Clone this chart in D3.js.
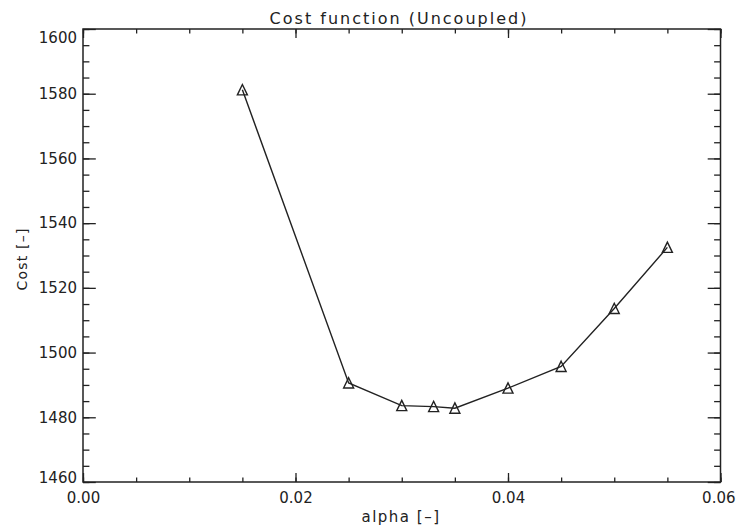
<!DOCTYPE html>
<html>
<head>
<meta charset="utf-8">
<script src="https://cdn.jsdelivr.net/npm/d3@7"></script>
<style>
  body { margin: 0; background: #fff; }
  svg { display: block; }
  text { font-family: "DejaVu Sans", sans-serif; fill: #222; }
</style>
</head>
<body>
<script>
let w = 736;
let h = 529;
let margin = {left: 83, right: 15.5, top: 29, bottom: 47};

// values
let alpha = [0.015, 0.025, 0.030, 0.033, 0.035, 0.040, 0.045, 0.050, 0.055];
let cost = [1581.2, 1490.6, 1483.6, 1483.3, 1482.8, 1489.0, 1495.7, 1513.6, 1532.5];
let xTicks = [0.00, 0.02, 0.04, 0.06];
let yTicks = [1460, 1480, 1500, 1520, 1540, 1560, 1580, 1600];

let data = alpha.map((a, i) => ({alpha: a, cost: cost[i]}));

let svg = d3.select("body").append("svg").attr("width", w).attr("height", h);

let x = d3.scaleLinear().domain([0, 0.06]).range([margin.left, w - margin.right]);
let y = d3.scaleLinear().domain([1460, 1600]).range([h - margin.bottom, margin.top]);

let xMinor = d3.range(0, 0.0601, 0.005);
let yMinor = d3.range(1460, 1600.1, 5);

let tlx = 9;     // x tick length (IDL 0.02 of plot height)
let tly = 12.8;  // y tick length

function styleAxis(g) {
  g.select(".domain").remove();
  g.selectAll("line").attr("stroke", "#222").attr("stroke-width", 1.3);
}

// minor ticks, all four sides
svg.append("g").attr("transform", "translate(0," + y(1460) + ")")
  .call(d3.axisBottom(x).tickValues(xMinor).tickSize(-tlx / 2).tickFormat(""))
  .call(styleAxis);
svg.append("g").attr("transform", "translate(0," + y(1600) + ")")
  .call(d3.axisTop(x).tickValues(xMinor).tickSize(-tlx / 2).tickFormat(""))
  .call(styleAxis);
svg.append("g").attr("transform", "translate(" + x(0) + ",0)")
  .call(d3.axisLeft(y).tickValues(yMinor).tickSize(-tly / 2).tickFormat(""))
  .call(styleAxis);
svg.append("g").attr("transform", "translate(" + x(0.06) + ",0)")
  .call(d3.axisRight(y).tickValues(yMinor).tickSize(-tly / 2).tickFormat(""))
  .call(styleAxis);

// major ticks with labels
let xAxis = svg.append("g").attr("transform", "translate(0," + y(1460) + ")")
  .call(d3.axisBottom(x).tickValues(xTicks).tickSize(-tlx).tickPadding(10.5).tickFormat(d3.format(".2f")))
  .call(styleAxis);
xAxis.selectAll("text").style("font-size", "15px").style("font-family", "DejaVu Sans, sans-serif").attr("fill", "#222");
// last label sits against the right edge of the page
xAxis.selectAll(".tick text").filter(d => d === 0.06).attr("text-anchor", "end").attr("x", w - 1 - x(0.06));

svg.append("g").attr("transform", "translate(0," + y(1600) + ")")
  .call(d3.axisTop(x).tickValues(xTicks).tickSize(-tlx).tickFormat(""))
  .call(styleAxis);

let yAxis = svg.append("g").attr("transform", "translate(" + x(0) + ",0)")
  .call(d3.axisLeft(y).tickValues(yTicks).tickSize(-tly).tickPadding(6).tickFormat(d3.format("d")))
  .call(styleAxis);
yAxis.selectAll("text").style("font-size", "15px").style("font-family", "DejaVu Sans, sans-serif").attr("fill", "#222");
// end labels pulled inside the frame, as in the original
yAxis.selectAll(".tick text").filter(d => d === 1600).attr("dy", "0.88em");
yAxis.selectAll(".tick text").filter(d => d === 1460).attr("dy", "0.0em");

svg.append("g").attr("transform", "translate(" + x(0.06) + ",0)")
  .call(d3.axisRight(y).tickValues(yTicks).tickSize(-tly).tickFormat(""))
  .call(styleAxis);

// frame
svg.append("rect")
  .attr("x", x(0)).attr("y", y(1600))
  .attr("width", x(0.06) - x(0)).attr("height", y(1460) - y(1600))
  .attr("fill", "none").attr("stroke", "#222").attr("stroke-width", 1.5);

// the curve
let line = d3.line().x(d => x(d.alpha)).y(d => y(d.cost));
svg.append("path").datum(data)
  .attr("d", line)
  .attr("fill", "none").attr("stroke", "#222").attr("stroke-width", 1.4);

// triangle markers (psym 5)
let tri = "M0,-5.3L5,5L-5,5Z";
svg.selectAll(".marker").data(data).enter().append("path")
  .attr("class", "marker")
  .attr("transform", d => "translate(" + x(d.alpha) + "," + y(d.cost) + ")")
  .attr("d", tri)
  .attr("fill", "none").attr("stroke", "#222").attr("stroke-width", 1.4);

// titles
svg.append("text")
  .attr("x", 399).attr("y", 23.5)
  .attr("text-anchor", "middle")
  .style("font-size", "16px").style("letter-spacing", "2px")
  .text("Cost function (Uncoupled)");

svg.append("text")
  .attr("x", 401).attr("y", 522)
  .attr("text-anchor", "middle")
  .style("font-size", "15px").style("letter-spacing", "1.5px")
  .text("alpha [–]");

svg.append("text")
  .attr("transform", "translate(26.5,259) rotate(-90)")
  .attr("text-anchor", "middle")
  .style("font-size", "14px").style("letter-spacing", "1.2px")
  .text("Cost [–]");
</script>
</body>
</html>
